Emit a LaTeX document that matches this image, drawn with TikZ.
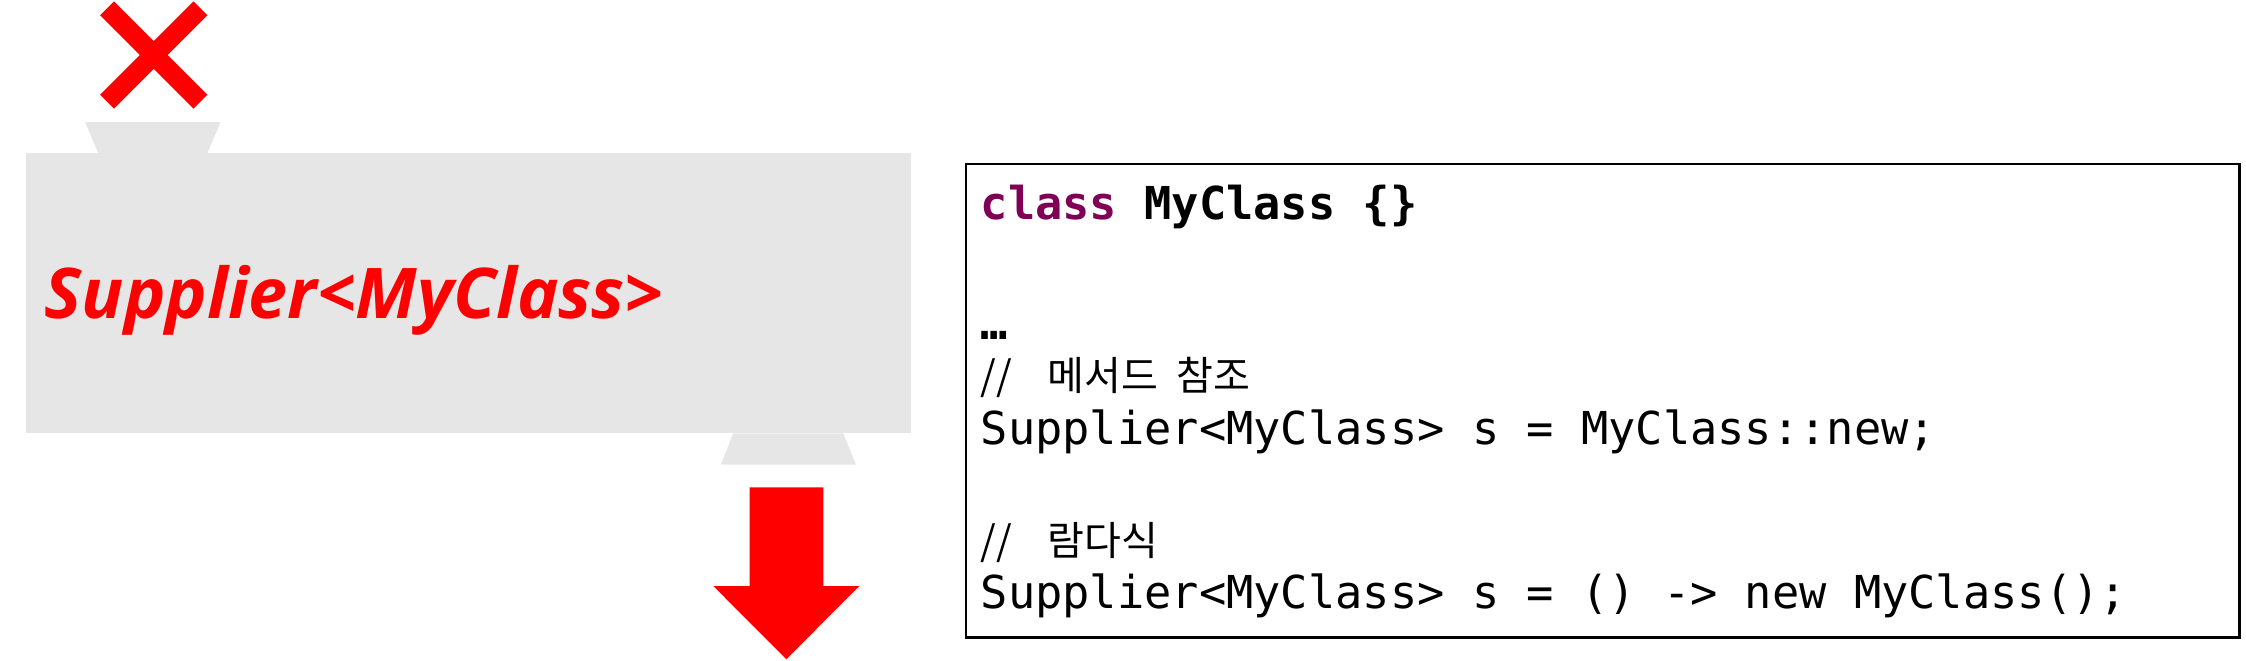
\documentclass[tikz,border=0pt]{standalone}
\usepackage{fontspec}
\setmonofont{DejaVu Sans Mono}
\newfontfamily\cjk[WordSpace=2]{Noto Sans CJK KR}
\newfontfamily\labelfont{Open Sans}
\usepackage{tikz}
\usetikzlibrary{calc}
\definecolor{kwpurple}{HTML}{7F0055}
\definecolor{bodygray}{HTML}{E6E6E6}
\newcommand{\slashes}{//\hspace{5pt} }

\begin{document}
\begin{tikzpicture}[
		code/.style={anchor=base west, inner sep=0pt, font=\fontsize{12.9}{14}\ttfamily},
		comment/.style={anchor=base west, inner sep=0pt, font=\fontsize{11.4}{13}\cjk}]
		\useasboundingbox (0,0) rectangle (22.46,6.6);
		
		% Kreuz
		\draw[red, line width=0.196cm] (1.07,5.583) -- (2.004,6.517);
		\draw[red, line width=0.196cm] (1.07,6.517) -- (2.004,5.583);
		
		% Koerper mit Anschluessen
		\fill[bodygray] (0.85,5.38) -- (2.207,5.38) -- (2.073,5.067) -- (0.983,5.067) -- cycle;
		\fill[bodygray] (0.26,2.267) rectangle (9.11,5.067);
		\fill[bodygray] (7.333,2.267) -- (8.433,2.267) -- (8.56,1.953) -- (7.207,1.953) -- cycle;
		\node[anchor=base west, inner sep=0pt, text=red, font=\fontsize{19.9}{22}\labelfont\bfseries\itshape] (supplier) at (0.44,3.42) {Supplier<MyClass>};
		
		% Pfeil
		\fill[red] (7.497,1.727) -- (8.233,1.727) -- (8.233,0.74) -- (8.593,0.74) -- (7.863,0.007) -- (7.133,0.74) -- (7.497,0.74) -- cycle;
		
		% Code
		\node[draw, line width=0.65pt, minimum width=12.738cm, minimum height=4.735cm, anchor=south west, inner sep=0pt] (box) at (9.645,0.215) {};
		\node[code] (cls) at (9.80,4.407) {\bfseries\textcolor{kwpurple}{class} MyClass \{\}};
		\node[code] (dots) at (9.80,3.21) {\bfseries …};
		\node[comment] (cmtref) at (9.80,2.70) {\slashes 메서드 참조};
		\node[code] (ref) at (9.80,2.16) {Supplier<MyClass> s = MyClass::new;};
		\node[comment] (cmtlam) at (9.80,1.05) {\slashes 람다식};
		\node[code] (lam) at (9.80,0.517) {Supplier<MyClass> s = () -> new MyClass();};
	\end{tikzpicture}
\end{document}
